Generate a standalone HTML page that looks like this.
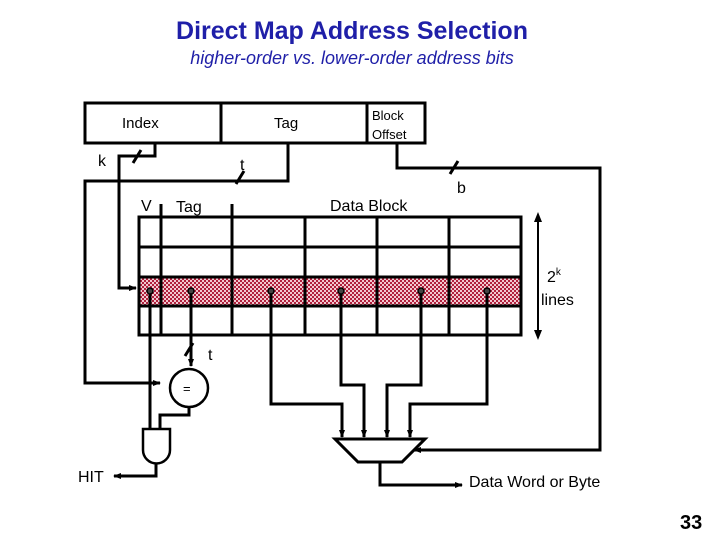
<!DOCTYPE html><html><head><style>body{margin:0;background:#fff}svg{display:block}</style></head><body>
<svg width="720" height="540" viewBox="0 0 720 540" xmlns="http://www.w3.org/2000/svg" font-family="Liberation Sans, sans-serif">
<defs>
<pattern id="p" width="4" height="4" patternUnits="userSpaceOnUse"><rect width="4" height="4" fill="#f2c8d0"/><rect width="2" height="2" fill="#b0203c"/><rect x="2" y="2" width="2" height="2" fill="#b0203c"/></pattern>
<marker id="a" markerWidth="8" markerHeight="8" refX="7" refY="4" orient="auto" markerUnits="userSpaceOnUse"><path d="M0,1 L8,4 L0,7z" fill="#000"/></marker>
</defs>
<text x="352" y="39" font-size="25" font-weight="bold" fill="#1f1fa8" text-anchor="middle">Direct Map Address Selection</text>
<text x="352" y="64" font-size="18" fill="#1f1fa8" text-anchor="middle" font-style="italic">higher-order vs. lower-order address bits</text>
<g stroke="#000" stroke-width="3" fill="none">
<rect x="85" y="103" width="340" height="40"/>
<line x1="221" y1="103" x2="221" y2="143"/><line x1="367" y1="103" x2="367" y2="143"/>
<rect x="139" y="277" width="382" height="29" fill="url(#p)"/>
<rect x="139" y="217" width="382" height="118"/>
<line x1="139" y1="247" x2="521" y2="247"/><line x1="139" y1="277" x2="521" y2="277"/><line x1="139" y1="306" x2="521" y2="306"/>
<line x1="161" y1="204" x2="161" y2="335"/><line x1="232" y1="204" x2="232" y2="335"/>
<line x1="305" y1="217" x2="305" y2="335"/><line x1="377" y1="217" x2="377" y2="335"/><line x1="449" y1="217" x2="449" y2="335"/>
<polyline points="155,143 155,156 119,156 119,288 136,288" marker-end="url(#a)"/>
<polyline points="288,143 288,181 85,181 85,383 160,383" marker-end="url(#a)"/>
<polyline points="397,143 397,168 600,168 600,450 414,450" marker-end="url(#a)"/>
<line x1="150" y1="291" x2="150" y2="429"/>
<polyline points="191,291 191,366" marker-end="url(#a)"/>
<circle cx="189" cy="388" r="19" stroke-width="2.5"/>
<polyline points="189,407 189,415 160,415 160,429"/>
<path d="M143,429 H170 V450 A13.5,13.5 0 0 1 143,450 Z" stroke-width="2.5"/>
<polyline points="156,463 156,476 114,476" marker-end="url(#a)"/>
<polyline points="271,291 271,404 342,404 342,437" marker-end="url(#a)"/>
<polyline points="341,291 341,385 364,385 364,437" marker-end="url(#a)"/>
<polyline points="421,291 421,385 387,385 387,437" marker-end="url(#a)"/>
<polyline points="487,291 487,404 410,404 410,437" marker-end="url(#a)"/>
<path d="M335,439 H425 L402,462 H358 Z"/>
<polyline points="380,462 380,485 462,485" marker-end="url(#a)"/>
<line x1="538" y1="218" x2="538" y2="334" stroke-width="2"/>
<line x1="133" y1="163" x2="141" y2="150"/><line x1="236" y1="184" x2="244" y2="171"/><line x1="450" y1="174" x2="458" y2="161"/><line x1="185" y1="356" x2="193" y2="343"/>
</g>
<path d="M538,212 L534,222 L542,222Z M538,340 L534,330 L542,330Z"/>
<g fill="#444" stroke="#000" stroke-width="1.5"><circle cx="150" cy="291" r="3"/><circle cx="191" cy="291" r="3"/><circle cx="271" cy="291" r="3"/><circle cx="341" cy="291" r="3"/><circle cx="421" cy="291" r="3"/><circle cx="487" cy="291" r="3"/></g>
<g font-size="16" fill="#000">
<text x="122" y="128" font-size="15">Index</text><text x="274" y="128" font-size="15">Tag</text>
<text x="372" y="120" font-size="13">Block</text><text x="372" y="139" font-size="13">Offset</text>
<text x="98" y="166">k</text><text x="240" y="170">t</text><text x="457" y="193">b</text>
<text x="141" y="211">V</text><text x="176" y="212">Tag</text><text x="330" y="211">Data Block</text>
<text x="547" y="282">2<tspan font-size="10" dy="-7">k</tspan></text><text x="541" y="305">lines</text>
<text x="208" y="360">t</text><text x="183" y="393" font-size="13">=</text>
<text x="78" y="482">HIT</text><text x="469" y="487">Data Word or Byte</text>
<text x="680" y="529" font-size="20" font-weight="bold">33</text>
</g>
</svg></body></html>
